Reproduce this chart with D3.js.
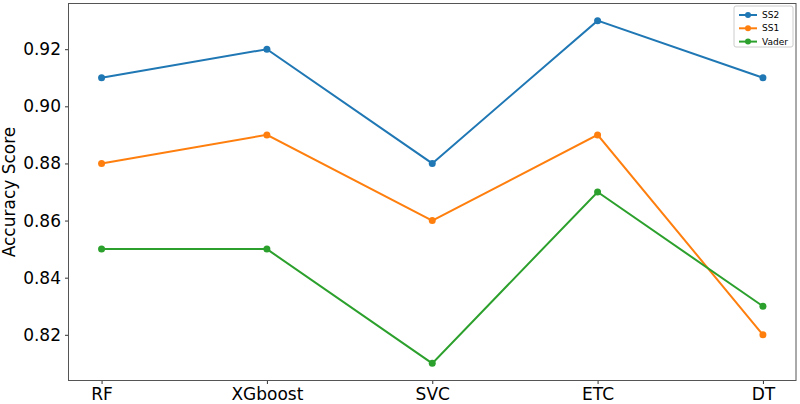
<!DOCTYPE html>
<html>
<head>
<meta charset="utf-8">
<script src="https://cdn.jsdelivr.net/npm/d3@7"></script>
<style>
  body { margin: 0; background: #fff; }
  text { font-family: "DejaVu Sans", sans-serif; }
</style>
</head>
<body>
<svg id="chart" width="800" height="404"></svg>
<script>
// categories and series
var models = ["RF", "XGboost", "SVC", "ETC", "DT"];
var ss2 = [0.91, 0.92, 0.88, 0.93, 0.91];
var ss1 = [0.88, 0.89, 0.86, 0.89, 0.82];
var vader = [0.85, 0.85, 0.81, 0.87, 0.83];
var yTicks = [0.82, 0.84, 0.86, 0.88, 0.90, 0.92];

var series = [
    {name: "SS2", values: ss2, color: "#1f77b4"},
    {name: "SS1", values: ss1, color: "#ff7f0e"},
    {name: "Vader", values: vader, color: "#2ca02c"}
];

var plotLeft = 68.5, plotRight = 796, plotTop = 3.5, plotBottom = 380.5;
var svg = d3.select("#chart");

var x = d3.scaleLinear().domain([-0.2, models.length - 1 + 0.2]).range([plotLeft, plotRight]);
var y = d3.scaleLinear().domain([0.804, 0.936]).range([plotBottom, plotTop]);

//axes
svg.append("g")
    .attr("transform", "translate(0," + plotBottom + ")")
    .call(d3.axisBottom(x).tickValues(d3.range(models.length)).tickFormat(function(i) { return models[i]; }).tickSize(3.5).tickPadding(4))
    .call(function(g) {
        g.select(".domain").remove();
        g.selectAll("text").attr("font-size", 17).attr("fill", "#000").attr("font-family", "DejaVu Sans");
        g.selectAll("line").attr("stroke", "#333");
    });

svg.append("g")
    .attr("transform", "translate(" + plotLeft + ",0)")
    .call(d3.axisLeft(y).tickValues(yTicks).tickFormat(d3.format(".2f")).tickSize(3.5).tickPadding(4))
    .call(function(g) {
        g.select(".domain").remove();
        g.selectAll("text").attr("font-size", 17).attr("fill", "#000").attr("font-family", "DejaVu Sans");
        g.selectAll("line").attr("stroke", "#333");
    });

svg.append("rect")
    .attr("x", plotLeft).attr("y", plotTop)
    .attr("width", plotRight - plotLeft).attr("height", plotBottom - plotTop)
    .attr("fill", "none").attr("stroke", "#555").attr("stroke-width", 1);

svg.append("text")
    .attr("transform", "translate(15," + ((plotTop + plotBottom) / 2) + ") rotate(-90)")
    .attr("text-anchor", "middle")
    .attr("font-size", 17)
    .text("Accuracy Score");

var line = d3.line()
    .x(function(d, i) { return x(i); })
    .y(function(d) { return y(d); });

series.forEach(function(s) {
    svg.append("path")
        .attr("d", line(s.values))
        .attr("fill", "none")
        .attr("stroke", s.color)
        .attr("stroke-width", 2);
    svg.selectAll(null)
        .data(s.values)
        .enter().append("circle")
        .attr("cx", function(d, i) { return x(i); })
        .attr("cy", function(d) { return y(d); })
        .attr("r", 3.5)
        .attr("fill", s.color);
});

// legend
var lg = svg.append("g").attr("transform", "translate(734,6)");
lg.append("rect")
    .attr("width", 59).attr("height", 41).attr("rx", 2)
    .attr("fill", "#fff").attr("fill-opacity", 0.8)
    .attr("stroke", "#ccc");
series.forEach(function(s, i) {
    var yy = 9 + i * 13.3;
    lg.append("line").attr("x1", 5).attr("x2", 23).attr("y1", yy).attr("y2", yy)
        .attr("stroke", s.color).attr("stroke-width", 2);
    lg.append("circle").attr("cx", 14).attr("cy", yy).attr("r", 3).attr("fill", s.color);
    lg.append("text").attr("x", 28).attr("y", yy).attr("dy", "0.35em")
        .attr("font-size", 9).text(s.name);
});
</script>
</body>
</html>
